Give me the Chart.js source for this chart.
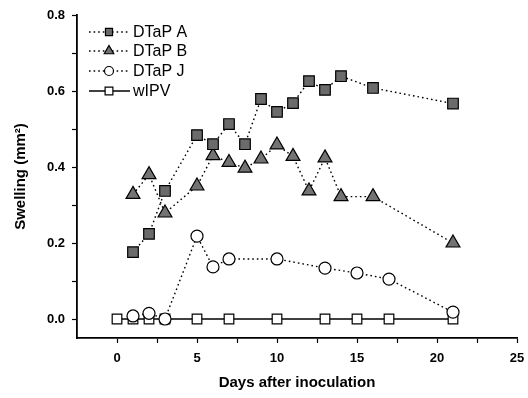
<!DOCTYPE html>
<html>
<head>
<meta charset="utf-8">
<script src="https://cdn.jsdelivr.net/npm/chart.js@4.4.1/dist/chart.umd.min.js"></script>
<style>
  body { margin: 0; background: #fff; }
  canvas { display: block; }
</style>
</head>
<body>
<canvas id="myChart" width="528" height="398"></canvas>
<script>
'use strict'
// data
const seriesNames = ['DTaP A', 'DTaP B', 'DTaP J', 'wIPV']
const daysA = [1, 2, 3, 5, 6, 7, 8, 9, 10, 11, 12, 13, 14, 16, 21]
const valuesA = [0.176, 0.224, 0.337, 0.484, 0.46, 0.513, 0.46, 0.579, 0.545, 0.568, 0.626, 0.603, 0.639, 0.608, 0.567]
const daysB = [1, 2, 3, 5, 6, 7, 8, 9, 10, 11, 12, 13, 14, 16, 21]
const valuesB = [0.328, 0.38, 0.279, 0.35, 0.43, 0.412, 0.397, 0.421, 0.458, 0.428, 0.337, 0.424, 0.322, 0.322, 0.2]
const daysJ = [1, 2, 3, 5, 6, 7, 10, 13, 15, 17, 21]
const valuesJ = [0.008, 0.015, 0.0, 0.218, 0.137, 0.158, 0.158, 0.134, 0.121, 0.105, 0.018]
const daysW = [0, 1, 2, 3, 5, 7, 10, 13, 15, 17, 21]
const valuesW = [0, 0, 0, 0, 0, 0, 0, 0, 0, 0, 0]
const xTicks = [0, 2.5, 5, 7.5, 10, 12.5, 15, 17.5, 20, 22.5, 25]
const xLabels = ['0', '', '5', '', '10', '', '15', '', '20', '', '25']
const yTicks = [0, 0.1, 0.2, 0.3, 0.4, 0.5, 0.6, 0.7, 0.8]
const yLabels = ['0.0', '', '0.2', '', '0.4', '', '0.6', '', '0.8']

const pts = (xs, ys) => xs.map((x, i) => ({ x: x, y: ys[i] }))
const FONT = '"Liberation Sans", Arial, sans-serif'

//legend drawn by hand: line + small marker + name
const legendRadius = [5, 5.5, 4.5, 5.5]
const legendPlugin = {
  id: 'handLegend',
  afterDraw(chart) {
    const ctx = chart.ctx
    const rows = [32, 51, 71, 91]
    chart.data.datasets.forEach((ds, i) => {
      const y = rows[i]
      ctx.save()
      ctx.strokeStyle = '#000'
      ctx.lineWidth = ds.borderWidth
      ctx.setLineDash(ds.borderDash || [])
      ctx.beginPath()
      ctx.moveTo(89, y)
      ctx.lineTo(130, y)
      ctx.stroke()
      ctx.setLineDash([])
      ctx.fillStyle = ds.pointBackgroundColor
      ctx.strokeStyle = ds.pointBorderColor
      ctx.lineWidth = ds.pointBorderWidth
      Chart.helpers.drawPoint(ctx, { pointStyle: ds.pointStyle, rotation: 0, radius: legendRadius[i], borderWidth: ds.pointBorderWidth }, 109, y)
      ctx.fillStyle = '#000'
      ctx.font = '16px ' + FONT
      ctx.textBaseline = 'middle'
      ctx.fillText(ds.label, 133, y + 1)
      ctx.restore()
    })
  }
}

const common = { borderColor: '#000', borderWidth: 1.4, pointBorderColor: '#000', pointBorderWidth: 1.2, showLine: true, tension: 0 }

new Chart(document.getElementById('myChart').getContext('2d'), {
  type: 'scatter',
  data: {
    datasets: [
      Object.assign({}, common, { label: seriesNames[0], data: pts(daysA, valuesA), borderDash: [1.6, 3], pointStyle: 'rect', pointRadius: 7.5, pointBackgroundColor: '#6b6b6b' }),
      Object.assign({}, common, { label: seriesNames[1], data: pts(daysB, valuesB), borderDash: [1.6, 3], pointStyle: 'triangle', pointRadius: 8, pointBackgroundColor: '#737373' }),
      Object.assign({}, common, { label: seriesNames[2], data: pts(daysJ, valuesJ), borderDash: [1.6, 3], pointStyle: 'circle', pointRadius: 6, pointBackgroundColor: '#fff' }),
      Object.assign({}, common, { label: seriesNames[3], data: pts(daysW, valuesW), borderDash: [], pointStyle: 'rect', pointRadius: 6.8, pointBackgroundColor: '#fff' })
    ]
  },
  options: {
    responsive: false,
    animation: false,
    layout: { padding: { left: 0, top: 15, right: 0, bottom: 0 } },
    plugins: { legend: { display: false }, tooltip: { enabled: false } },
    elements: { point: { hoverRadius: 0 } },
    scales: {
      x: {
        type: 'linear',
        min: -2.5,
        max: 25,
        afterBuildTicks: (s) => { s.ticks = xTicks.map((v) => ({ value: v })) },
        afterFit: (s) => { s.height = 60; s.paddingRight = 11 },
        border: { display: true, color: '#000', width: 1.8 },
        grid: { drawOnChartArea: false, drawTicks: true, tickLength: 5, tickColor: '#000', tickWidth: 1.2 },
        ticks: {
          color: '#000',
          padding: 8,
          maxRotation: 0,
          autoSkip: false,
          font: { family: FONT, size: 13, weight: 'bold' },
          callback: (v, i) => xLabels[i]
        },
        title: {
          display: true,
          text: 'Days after inoculation',
          color: '#000',
          font: { family: FONT, size: 15, weight: 'bold' },
          padding: { top: 0, bottom: 6 }
        }
      },
      y: {
        type: 'linear',
        min: -0.05,
        max: 0.8,
        afterBuildTicks: (s) => { s.ticks = yTicks.map((v) => ({ value: v })) },
        afterFit: (s) => { s.width = 77 },
        border: { display: true, color: '#000', width: 1.8 },
        grid: { drawOnChartArea: false, drawTicks: true, tickLength: 5, tickColor: '#000', tickWidth: 1.2 },
        ticks: {
          color: '#000',
          padding: 7,
          autoSkip: false,
          font: { family: FONT, size: 13, weight: 'bold' },
          callback: (v, i) => yLabels[i]
        },
        title: {
          display: true,
          text: 'Swelling (mm²)',
          color: '#000',
          font: { family: FONT, size: 15, weight: 'bold' },
          padding: { top: 12, bottom: 0 }
        }
      }
    }
  },
  plugins: [legendPlugin]
})
</script>
</body>
</html>
